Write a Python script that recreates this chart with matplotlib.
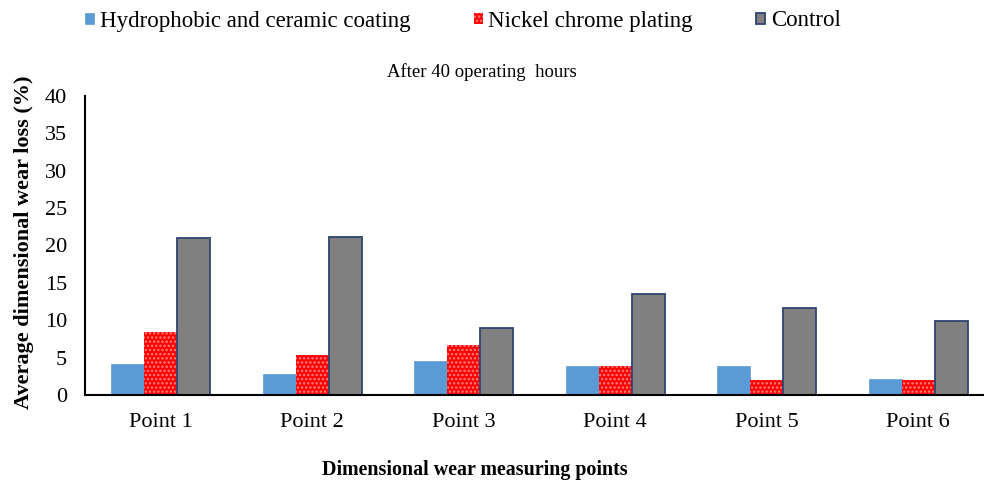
import matplotlib
matplotlib.use("Agg")
import matplotlib.pyplot as plt
import numpy as np

plt.rcParams['font.family'] = ['Liberation Serif', 'DejaVu Serif']
plt.rcParams['hatch.linewidth'] = 1.2

categories = ["Point 1", "Point 2", "Point 3", "Point 4", "Point 5", "Point 6"]
hydrophobic = [4.2, 2.8, 4.5, 3.9, 3.9, 2.1]
nickel = [8.4, 5.3, 6.7, 3.9, 2.0, 2.0]
control = [21.0, 21.2, 8.9, 13.5, 11.7, 9.9]
series_names = ["Hydrophobic and ceramic coating", "Nickel chrome plating", "Control"]
yticks = [0, 5, 10, 15, 20, 25, 30, 35, 40]

W, H = 984, 484
fig = plt.figure(figsize=(W/100, H/100), dpi=100)
left, bottom, top = 85, 395, 96
right = 984
ax = fig.add_axes([left/W, 1 - bottom/H, (right-left)/W, (bottom-top)/H])

x = np.arange(len(categories))
bw = 0.218
ax.bar(x - bw, hydrophobic, bw, color='#5B9BD5', edgecolor='#5B9BD5', linewidth=0.5, label=series_names[0])
ax.bar(x, nickel, bw, color='#FF0000', edgecolor='#FF8080', hatch='....', linewidth=0, label=series_names[1])
ax.bar(x + bw, control, bw, color='#808080', edgecolor='#2F4470', linewidth=1.3, label=series_names[2])

ax.set_ylim(0, 40)
ax.set_xlim(-0.5, -0.5 + (right-left)/151.5)
ax.set_yticks(yticks)
ax.set_xticks(x)
ax.set_xticklabels(categories)
ax.tick_params(axis='both', length=0, labelsize=16)
ax.tick_params(axis='x', pad=13)
ax.tick_params(axis='y', pad=13)
ax.spines['top'].set_visible(False)
ax.spines['right'].set_visible(False)
ax.spines['left'].set_linewidth(1.5)
ax.spines['bottom'].set_linewidth(1.5)

fig.text(482/W, 1 - 72/H, "After 40 operating  hours", ha='center', va='center', fontsize=13.5)
fig.text(475/W, 1 - 470/H, "Dimensional wear measuring points", ha='center', va='center', fontsize=14.4, fontweight='bold')
fig.text(24/W, 1 - 242/H, "Average dimensional wear loss (%)", ha='center', va='center', rotation=90, fontsize=16, fontweight='bold')

leg = fig.legend(loc='center left', bbox_to_anchor=(76/W, 1 - 21/H), ncol=3, frameon=False,
                 fontsize=16.5, handlelength=0.4, handleheight=0.4, columnspacing=2.75, handletextpad=0.25,
                 borderaxespad=0, borderpad=0.4)

fig.savefig("out.png", dpi=100)
